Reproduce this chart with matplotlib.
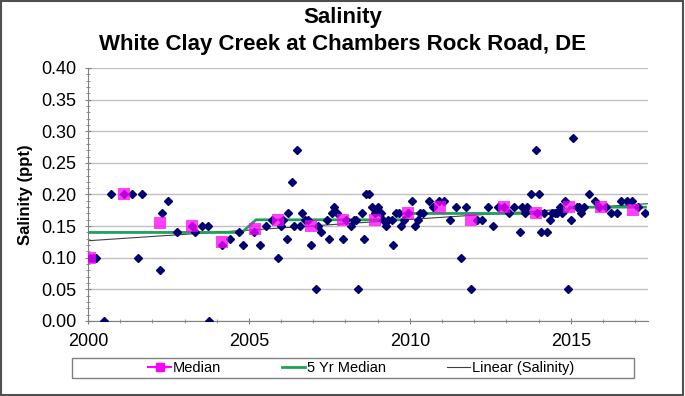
import numpy as np
import matplotlib
matplotlib.use('Agg')
import matplotlib.pyplot as plt
from matplotlib.lines import Line2D
from matplotlib.patches import Rectangle
from matplotlib.ticker import MultipleLocator

plt.rcParams['font.family'] = ['Liberation Sans Narrow', 'Liberation Sans', 'DejaVu Sans']

# individual samples (decimal year, ppt)
sample_year = [
    2000.05, 2000.16, 2000.24, 2000.50, 2000.71, 2001.13, 2001.36, 2001.56, 2001.68,
    2002.23, 2002.30, 2002.50, 2002.77, 2003.24, 2003.33, 2003.53, 2003.73, 2003.77,
    2004.15, 2004.41, 2004.68, 2004.81, 2005.17, 2005.33, 2005.53, 2005.71, 2005.90,
    2005.99, 2006.06, 2006.17, 2006.22, 2006.34, 2006.41, 2006.48, 2006.58, 2006.66,
    2006.74, 2006.83, 2006.93, 2007.07, 2007.15, 2007.24, 2007.42, 2007.50, 2007.57,
    2007.65, 2007.74, 2007.91, 2008.03, 2008.16, 2008.25, 2008.32, 2008.40, 2008.50,
    2008.57, 2008.65, 2008.73, 2008.82, 2008.92, 2009.00, 2009.09, 2009.17, 2009.25,
    2009.33, 2009.43, 2009.49, 2009.57, 2009.65, 2009.74, 2009.83, 2009.93, 2010.07,
    2010.17, 2010.25, 2010.33, 2010.41, 2010.59, 2010.73, 2010.92, 2011.07, 2011.25,
    2011.42, 2011.58, 2011.75, 2011.90, 2012.09, 2012.24, 2012.43, 2012.59, 2012.75,
    2012.93, 2013.08, 2013.25, 2013.43, 2013.50, 2013.58, 2013.65, 2013.75, 2013.93,
    2013.95, 2014.00, 2014.09, 2014.16, 2014.25, 2014.34, 2014.42, 2014.50, 2014.58,
    2014.65, 2014.74, 2014.82, 2014.92, 2015.02, 2015.08, 2015.18, 2015.25, 2015.33,
    2015.42, 2015.58, 2015.75, 2015.88, 2016.08, 2016.24, 2016.43, 2016.57, 2016.74,
    2016.91, 2017.09, 2017.32,
]
sample_val = [
    0.10, 0.10, 0.10, 0.00, 0.20, 0.20, 0.20, 0.10, 0.20,
    0.08, 0.17, 0.19, 0.14, 0.15, 0.14, 0.15, 0.15, 0.00,
    0.12, 0.13, 0.14, 0.12, 0.14, 0.12, 0.15, 0.16, 0.10,
    0.15, 0.16, 0.13, 0.17, 0.22, 0.15, 0.27, 0.15, 0.17,
    0.16, 0.16, 0.12, 0.05, 0.15, 0.14, 0.16, 0.13, 0.17,
    0.18, 0.17, 0.13, 0.16, 0.15, 0.16, 0.16, 0.05, 0.17,
    0.13, 0.20, 0.20, 0.18, 0.17, 0.18, 0.17, 0.16, 0.15,
    0.16, 0.16, 0.12, 0.17, 0.17, 0.15, 0.16, 0.17, 0.19,
    0.15, 0.16, 0.17, 0.17, 0.19, 0.18, 0.19, 0.19, 0.16,
    0.18, 0.10, 0.18, 0.05, 0.16, 0.16, 0.18, 0.15, 0.18,
    0.18, 0.17, 0.18, 0.14, 0.18, 0.17, 0.18, 0.20, 0.27,
    0.17, 0.20, 0.14, 0.17, 0.14, 0.16, 0.17, 0.17, 0.17,
    0.18, 0.17, 0.19, 0.05, 0.16, 0.29, 0.18, 0.18, 0.17,
    0.18, 0.20, 0.19, 0.18, 0.18, 0.17, 0.17, 0.19, 0.19,
    0.19, 0.18, 0.17,
]

# annual medians
median_year = [2000.05, 2001.13, 2002.23, 2003.24, 2004.15, 2005.20, 2005.90, 2006.93, 2007.93,
               2008.92, 2009.93, 2010.93, 2011.91, 2012.93, 2013.93, 2014.94, 2015.93, 2016.93]
median_val = [0.10, 0.20, 0.155, 0.15, 0.125, 0.145, 0.16, 0.15, 0.16,
              0.16, 0.17, 0.18, 0.16, 0.18, 0.17, 0.18, 0.18, 0.175]

# 5 yr median
med5_year = [2000.05, 2004.78, 2005.22, 2009.75, 2009.95, 2014.85, 2014.97, 2017.32]
med5_val = [0.14, 0.14, 0.16, 0.16, 0.17, 0.17, 0.18, 0.18]

x = np.array(sample_year)
y = np.array(sample_val)
slope, icpt = np.polyfit(x, y, 1)
xfit = np.array([2000.0, 2017.4])

fig = plt.figure(figsize=(6.85, 3.96), dpi=100)
ax = fig.add_axes([0.1285, 0.1894, 0.8175, 0.6389])

ax.grid(True, axis='y', color='#c0c0c0', linewidth=1)
ax.set_axisbelow(True)
ax.plot(xfit, slope * xfit + icpt, color='#404040', linewidth=0.8, zorder=2)
ax.plot(med5_year, med5_val, color='#1fa05a', linewidth=2, zorder=3)
ax.plot(x, y, linestyle='none', marker='D', markersize=4.3, color='#000070', zorder=4)
ax.plot(median_year, median_val, linestyle='none', marker='s', markersize=8,
        color='#ff00ff', alpha=0.75, markeredgewidth=0, zorder=5)

ax.set_xlim(2000, 2017.4)
ax.set_ylim(0, 0.4)
ax.xaxis.set_major_locator(MultipleLocator(5))
ax.xaxis.set_minor_locator(MultipleLocator(1))
ax.yaxis.set_major_locator(MultipleLocator(0.05))
ax.yaxis.set_minor_locator(MultipleLocator(0.01))
ax.yaxis.set_major_formatter(matplotlib.ticker.FormatStrFormatter('%.2f'))
ax.xaxis.set_major_formatter(matplotlib.ticker.FormatStrFormatter('%d'))
ax.tick_params(axis='both', which='major', labelsize=13, direction='inout', length=5,
               color='#808080', pad=6)
ax.tick_params(axis='both', which='minor', direction='inout', length=3, color='#808080')
for s in ['top', 'right']:
    ax.spines[s].set_visible(False)
for s in ['left', 'bottom']:
    ax.spines[s].set_color('#808080')
ax.set_ylabel('Salinity (ppt)', fontsize=12, fontweight='bold', labelpad=6)

fig.text(0.5, 0.955, 'Salinity', ha='center', va='center', fontsize=16, fontweight='bold')
fig.text(0.5, 0.888, 'White Clay Creek at Chambers Rock Road, DE', ha='center', va='center',
         fontsize=16, fontweight='bold')

handles = [
    Line2D([], [], color='#ff00ff', marker='s', markersize=6, linewidth=1.5),
    Line2D([], [], color='#1fa05a', linewidth=2),
    Line2D([], [], color='#404040', linewidth=0.8),
]
labels = ['Median', '5 Yr Median', 'Linear (Salinity)']
fig.patches.append(Rectangle((72 / 685, 1 - 378 / 396), (634 - 72) / 685, 20 / 396,
                             transform=fig.transFigure, fill=False, edgecolor='#808080',
                             linewidth=1))
fig.legend(handles, labels, loc='center', ncol=3, mode='expand', frameon=False,
           bbox_to_anchor=(148 / 685, 1 - 378 / 396, (574 - 148) / 685, 20 / 396),
           fontsize=10.5, handlelength=1.6, handletextpad=0.1, borderpad=0, borderaxespad=0)
fig.patches.append(Rectangle((0.002, 0.003), 0.995, 0.994, transform=fig.transFigure,
                             fill=False, edgecolor='#505050', linewidth=1.5))

fig.savefig('out.png', dpi=100)
